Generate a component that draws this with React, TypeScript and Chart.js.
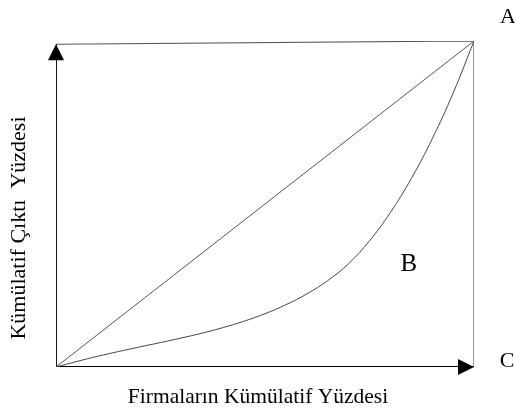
import React, { useEffect, useRef } from "react";
import { Chart, registerables } from "chart.js";

Chart.register(...registerables);

const curveX = [0, 5, 10, 15, 20, 25, 30, 35, 40, 45, 50, 55, 60, 65, 70, 75, 80, 85, 90, 95, 100];
const curveY = [0, 1.7, 3.3, 4.75, 6.15, 7.5, 8.9, 10.4, 12.1, 14.05, 16.35, 19.1, 22.4, 26.5, 31.7, 38.7, 47.4, 57.8, 70.0, 84.0, 100];
const equalityX = [0, 100];
const equalityY = [0, 100];
const frameX = [0, 100, 100];
const frameY = [99, 100, 0];
const axisX = [0, 0, 100];
const axisY = [99, 0, 0];

const xTitle = "Firmaların Kümülatif Yüzdesi";
const yTitle = "Kümülatif Çıktı  Yüzdesi";
const cornerTop = "A";
const cornerBottom = "C";
const areaLabel = "B";
const areaLabelAt = { x: 84.4, y: 29.5 };

const toPts = (xs: number[], ys: number[]) => xs.map((x, i) => ({ x, y: ys[i] }));

const SERIF = "'Liberation Serif', 'Times New Roman', serif";

const decorPlugin = {
  id: "decor",
  afterDraw(chart: any) {
    const ctx = chart.ctx as CanvasRenderingContext2D;
    const xs = chart.scales.x;
    const ys = chart.scales.y;
    const area = chart.chartArea;
    ctx.save();
    ctx.fillStyle = "#000";
    // arrowheads at axis ends
    const upX = xs.getPixelForValue(axisX[0]);
    const upY = ys.getPixelForValue(axisY[0]);
    ctx.beginPath();
    ctx.moveTo(upX, upY);
    ctx.lineTo(upX - 8, upY + 16);
    ctx.lineTo(upX + 8, upY + 16);
    ctx.closePath();
    ctx.fill();
    const rX = xs.getPixelForValue(axisX[2]);
    const rY = ys.getPixelForValue(axisY[2]);
    ctx.beginPath();
    ctx.moveTo(rX, rY);
    ctx.lineTo(rX - 16, rY - 8);
    ctx.lineTo(rX - 16, rY + 8);
    ctx.closePath();
    ctx.fill();
    // labels
    ctx.textAlign = "center";
    ctx.textBaseline = "alphabetic";
    ctx.font = `22px ${SERIF}`;
    ctx.fillText(cornerTop, area.right + 34, area.top - 18);
    ctx.fillText(cornerBottom, area.right + 33, area.bottom);
    ctx.font = `25px ${SERIF}`;
    ctx.fillText(areaLabel, xs.getPixelForValue(areaLabelAt.x), ys.getPixelForValue(areaLabelAt.y));
    ctx.font = `21.5px ${SERIF}`;
    ctx.fillText(xTitle, (area.left + area.right) / 2 - 7, area.bottom + 36);
    ctx.font = `22px ${SERIF}`;
    ctx.translate(25, (area.top + area.bottom) / 2 + 24);
    ctx.rotate(-Math.PI / 2);
    ctx.fillText(yTitle, 0, 0);
    ctx.restore();
  },
};

export default function App() {
  const ref = useRef<HTMLCanvasElement>(null);
  useEffect(() => {
    document.body.style.margin = "0";
    const chart = new Chart(ref.current!, {
      type: "scatter",
      data: {
        datasets: [
          {
            data: toPts(frameX, frameY),
            showLine: true,
            borderColor: "#555",
            borderWidth: 1.2,
            pointRadius: 0,
          },
          {
            data: toPts(equalityX, equalityY),
            showLine: true,
            borderColor: "#555",
            borderWidth: 1,
            pointRadius: 0,
          },
          {
            data: toPts(curveX, curveY),
            showLine: true,
            borderColor: "#444",
            borderWidth: 1,
            pointRadius: 0,
            tension: 0.4,
          },
          {
            data: toPts(axisX, axisY),
            showLine: true,
            borderColor: "#000",
            borderWidth: 1.8,
            pointRadius: 0,
          },
        ],
      },
      options: {
        responsive: false,
        animation: false,
        layout: { padding: { left: 56, right: 41, top: 41, bottom: 44 } },
        plugins: { legend: { display: false }, tooltip: { enabled: false } },
        scales: {
          x: { type: "linear", min: 0, max: 100, display: false },
          y: { type: "linear", min: 0, max: 100, display: false },
        },
      },
      plugins: [decorPlugin],
    });
    return () => chart.destroy();
  }, []);
  return (
    <div style={{ width: 515, height: 411, background: "#fff" }}>
      <canvas ref={ref} width={515} height={411} />
    </div>
  );
}
